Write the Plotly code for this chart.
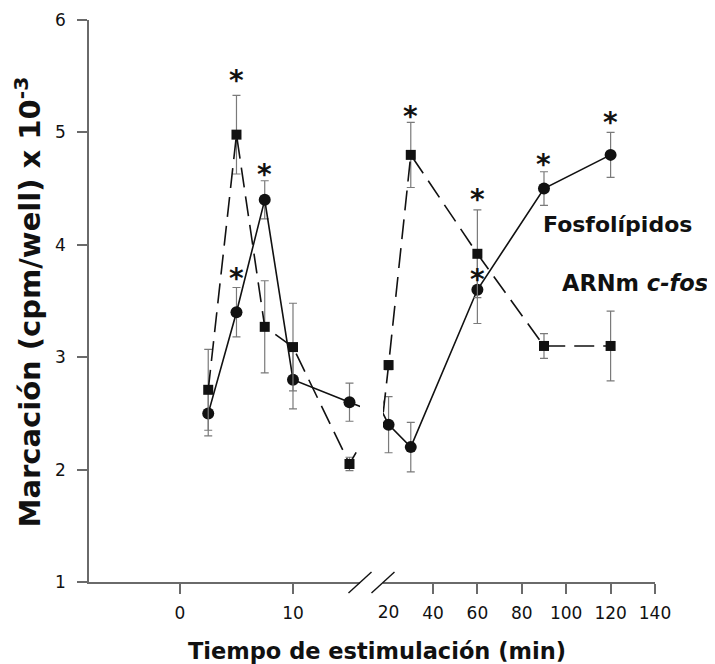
import plotly.graph_objects as go

# ---------------- data ----------------
time_min = [2.5, 5, 7.5, 10, 15, 20, 30, 60, 90, 120]

fosfolipidos = [2.50, 3.40, 4.40, 2.80, 2.60, 2.40, 2.20, 3.60, 4.50, 4.80]
fosfolipidos_err = [0.20, 0.22, 0.17, 0.26, 0.17, 0.25, 0.22, 0.30, 0.15, 0.20]

arnm_cfos = [2.71, 4.98, 3.27, 3.09, 2.05, 2.93, 4.80, 3.92, 3.10, 3.10]
arnm_cfos_err = [0.36, 0.35, 0.41, 0.39, 0.06, 0.04, 0.29, 0.39, 0.11, 0.31]

# significance asterisks (x, height)
star_fosfo_x = [5, 7.5, 60, 90, 120]
star_fosfo_y = [3.74, 4.66, 3.73, 4.75, 5.12]
star_cfos_x = [5, 30, 60]
star_cfos_y = [5.50, 5.175, 4.44]

y_ticks = [1, 2, 3, 4, 5, 6]
x_ticks_early = [0, 10]
x_ticks_late = [40, 60, 80, 100, 120, 140]
x_label_20 = [20]

BREAK_EARLY = 15.93   # end of first axis segment
BREAK_LATE = 17.48    # start of second axis segment

# ---------------- style ----------------
FONT = "DejaVu Sans"
AX = "#6a6a6a"
INK = "#111111"
ERR = "#7a7a7a"

fig = go.Figure()

for xa in ("x", "x2"):
    fig.add_trace(go.Scatter(
        x=time_min, y=fosfolipidos, xaxis=xa, yaxis="y",
        mode="lines+markers",
        line=dict(color=INK, width=1.6),
        marker=dict(symbol="circle", size=12, color=INK),
        error_y=dict(type="data", array=fosfolipidos_err, color=ERR,
                     thickness=1.2, width=4),
        showlegend=False, hoverinfo="skip", cliponaxis=True))
    fig.add_trace(go.Scatter(
        x=time_min, y=arnm_cfos, xaxis=xa, yaxis="y",
        mode="lines+markers",
        line=dict(color=INK, width=1.6, dash="20px,9px"),
        marker=dict(symbol="square", size=10, color=INK),
        error_y=dict(type="data", array=arnm_cfos_err, color=ERR,
                     thickness=1.2, width=4),
        showlegend=False, hoverinfo="skip", cliponaxis=True))

# dummy trace so the overlay axis (label "20") exists
fig.add_trace(go.Scatter(x=[None], y=[None], xaxis="x3", yaxis="y",
                         showlegend=False, hoverinfo="skip"))

# asterisks
annotations = []
for xs, ys in ((star_fosfo_x, star_fosfo_y), (star_cfos_x, star_cfos_y)):
    for sx, sy in zip(xs, ys):
        annotations.append(dict(
            x=sx, y=sy, xref="x" if sx <= BREAK_EARLY else "x2", yref="y",
            text="<b>*</b>", showarrow=False, xanchor="center",
            yanchor="middle", yshift=-4,
            font=dict(family=FONT, size=28, color=INK)))

# series labels
annotations.append(dict(x=123.3, y=4.18, xref="x2", yref="y",
                        text="<b>Fosfolípidos</b>", showarrow=False,
                        xanchor="center", yanchor="middle",
                        font=dict(family=FONT, size=22, color=INK)))
annotations.append(dict(x=130.9, y=3.66, xref="x2", yref="y",
                        text="<b>ARNm <i>c-fos</i></b>", showarrow=False,
                        xanchor="center", yanchor="middle",
                        font=dict(family=FONT, size=22.5, color=INK)))

# axis titles
annotations.append(dict(x=0.508, y=-0.122, xref="paper", yref="paper",
                        text="<b>Tiempo de estimulación (min)</b>",
                        showarrow=False, xanchor="center", yanchor="middle",
                        font=dict(family=FONT, size=22.5, color=INK)))
annotations.append(dict(x=-0.108, y=0.499, xref="paper", yref="paper",
                        text="<b>Marcación (cpm/well) x 10<sup>-3</sup></b>",
                        textangle=-90, showarrow=False,
                        xanchor="center", yanchor="middle",
                        font=dict(family=FONT, size=29, color=INK)))

LEFT_END = 0.4788
RIGHT_START = 0.5194

# axis-break slashes
shapes = []
for xp in (LEFT_END, RIGHT_START):
    shapes.append(dict(type="line", xref="paper", yref="paper",
                       xsizemode="pixel", ysizemode="pixel",
                       xanchor=xp, yanchor=0,
                       x0=-11.5, x1=11.5, y0=-11, y1=10,
                       line=dict(color=INK, width=1.4)))

axis_common = dict(showline=True, linecolor=AX, linewidth=1.5,
                   ticks="outside", ticklen=10, tickwidth=1.5, tickcolor=AX,
                   showgrid=False, zeroline=False, automargin=False,
                   tickfont=dict(family=FONT, size=17, color=INK))

# the html page adds an 8px body margin, so the figure is 8px smaller
fig.update_layout(
    width=707, height=656,
    margin=dict(l=81, r=60, t=12, b=82, pad=0, autoexpand=False),
    paper_bgcolor="white", plot_bgcolor="white",
    xaxis=dict(domain=[0, LEFT_END], range=[-8.05, BREAK_EARLY],
               tickmode="array", tickvals=x_ticks_early, anchor="y",
               ticklabelstandoff=5, **axis_common),
    xaxis2=dict(domain=[RIGHT_START, 1], range=[BREAK_LATE, 140],
                tickmode="array", tickvals=x_ticks_late, anchor="y",
                ticklabelstandoff=5, **axis_common),
    xaxis3=dict(overlaying="x2", range=[BREAK_LATE, 140], anchor="y",
                tickmode="array", tickvals=x_label_20,
                showline=False, ticks="outside", ticklen=10, tickwidth=1.5,
                tickcolor="rgba(0,0,0,0)", showgrid=False, zeroline=False,
                ticklabelstandoff=5, automargin=False,
                tickfont=dict(family=FONT, size=17, color=INK)),
    yaxis=dict(range=[1, 6], tickmode="array", tickvals=y_ticks,
               anchor="x", ticklabelstandoff=8, **axis_common),
    annotations=annotations,
    shapes=shapes,
)

fig.write_html("out.html")
